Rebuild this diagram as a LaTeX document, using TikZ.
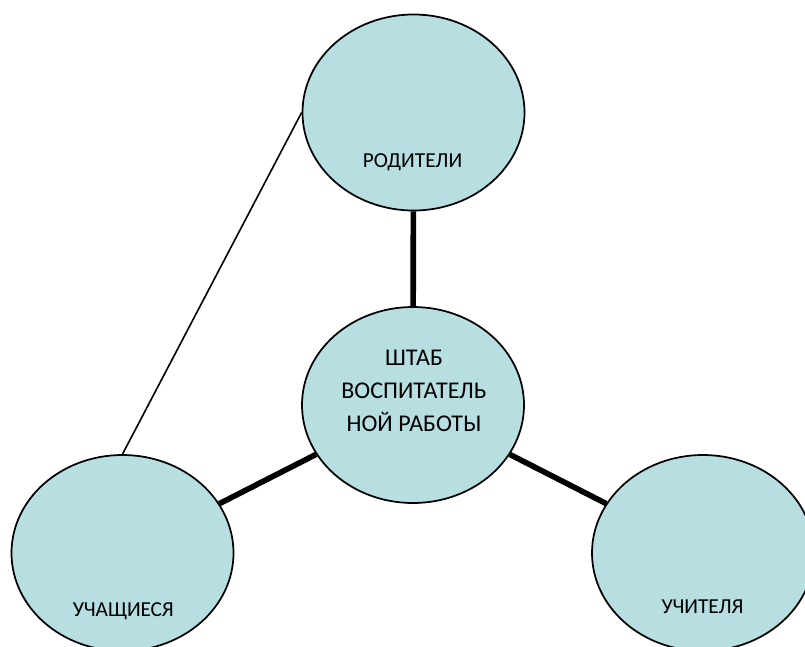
\documentclass[tikz,border=0pt]{standalone}
\usepackage{fontspec}
\setmainfont{Carlito}
\usetikzlibrary{shapes.geometric}
\definecolor{bub}{HTML}{B7DEE1}
\begin{document}
\begin{tikzpicture}[x=0.75pt,y=-0.75pt,
  bubble/.style={ellipse, draw=black, line width=1.3pt, fill=bub, inner sep=0pt,
                 minimum width=166.5pt, minimum height=147pt},
  lbl/.style={font=\fontsize{16}{24.5}\selectfont, text=black, align=center, inner sep=0pt},
  biglbl/.style={lbl, font=\fontsize{18}{24.5}\selectfont},
  heavy/.style={line width=4.2pt},
  light/.style={line width=1.2pt}]
\useasboundingbox (0,0) rectangle (805,646);
\node[bubble] (top) at (413.5,112.5) {};
\node[bubble] (mid) at (413,405) {};
\node[bubble] (bl) at (122.5,553) {};
\node[bubble] (br) at (703,553) {};
\draw[heavy] (top) -- (mid);
\draw[heavy] (mid) -- (bl);
\draw[heavy] (mid) -- (br);
\draw[light] (top.west) -- (bl.north);
\node[lbl] (tTop) at (412.5,162) {РОДИТЕЛИ};
\node[biglbl] (tMid) at (414,391) {ШТАБ\\ВОСПИТАТЕЛЬ\\НОЙ РАБОТЫ};
\node[lbl] (tBl) at (123.3,611) {УЧАЩИЕСЯ};
\node[lbl] (tBr) at (702.5,607) {УЧИТЕЛЯ};
\end{tikzpicture}
\end{document}
